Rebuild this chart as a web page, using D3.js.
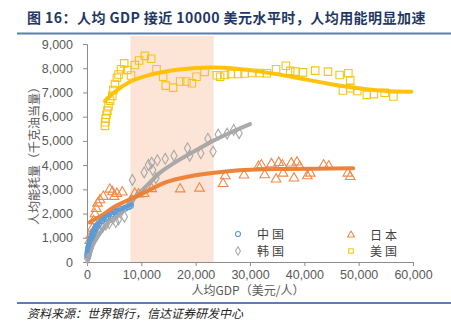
<!DOCTYPE html>
<meta charset="utf-8">
<script src="https://d3js.org/d3.v7.min.js"></script>
<style>
  body { margin: 0; background: #fff; }
  text { font-family: "Liberation Sans", Arial, sans-serif; }
  .cjk { font-family: "Noto Sans CJK SC", sans-serif; }
</style>
<div id="chart"></div>
<script>
var width = 451, height = 327

// data: [GDP per capita, energy use per capita]
var china = [[150,300],[200,400],[250,500],[300,560],[350,620],[450,700],[550,780],[650,880],[750,950],[850,1020],[1000,1100],[1150,1200],[1300,1280],[1500,1380],[1750,1450],[2100,1560],[2700,1700],[3400,1800],[3800,1880],[4500,1980],[5100,2060],[5600,2100],[6300,2170],[7000,2220],[7600,2280],[8000,2330]]
var japan = [[500,880],[700,1110],[980,1390],[1200,1700],[1470,1980],[1700,2200],[1960,2420],[2400,2560],[3000,2700],[4200,3000],[4700,2890],[5000,2700],[5500,2820],[6500,2880],[8800,2830],[9500,2800],[10500,2820],[11900,3020],[17150,3010],[20700,3040],[25050,3230],[25450,3550],[28900,3580],[31550,3940],[32100,4000],[32700,3590],[33950,4050],[34800,3420],[35300,4100],[35950,4000],[36100,3660],[37600,4080],[38100,3460],[38650,4120],[39150,3940],[40550,3550],[41100,3660],[43550,4000],[44500,3960],[48000,3660],[48450,3520]]
var korea = [[100,150],[150,230],[250,300],[400,420],[550,550],[700,700],[900,850],[1100,950],[1400,1050],[1800,1150],[2300,1300],[2900,1450],[3500,1550],[4100,1600],[4800,1800],[5300,1650],[5800,1760],[6900,1870],[7900,2490],[8250,2560],[8350,3390],[10530,3700],[11300,4010],[11900,4100],[12100,3800],[12700,3460],[12950,4200],[14400,4260],[16000,4390],[18500,4700],[18900,4390],[20950,4490],[22250,5090],[23200,4560],[24150,5260],[25800,5300],[27000,5450],[28000,5320]]
var usa = [[3300,5620],[3370,5770],[3450,5920],[3580,6080],[3750,6250],[3950,6430],[4250,6660],[4650,6860],[4850,7100],[5150,7350],[5500,7610],[5800,7740],[6250,7960],[6850,8200],[7400,7930],[8100,7700],[8800,8130],[9600,8320],[10650,8510],[11800,8390],[12800,7960],[14000,7650],[14500,7280],[15850,7200],[17150,7450],[18300,7450],[19300,7380],[20150,7650],[21650,7850],[23900,7710],[24500,7650],[25400,7720],[26500,7760],[27800,7760],[29000,7780],[30400,7800],[31800,7800],[33100,7790],[34800,7960],[36600,8100],[37400,7890],[38350,7860],[39750,7830],[42000,7900],[44350,7860],[46500,7720],[48100,7790],[48450,7500],[47100,7080],[48450,7170],[49750,7060],[51500,6900],[52800,6930],[54800,6990],[56400,6830]]

// trend lines
var chinaTrend = [[150,450],[500,800],[1000,1150],[2080,1600],[3000,1800],[4530,2010],[6000,2150],[7900,2350],[8200,2380]]
var japanTrend = [[550,1650],[3300,2010],[4840,2250],[7000,2500],[10000,2800],[14000,3250],[20000,3580],[26000,3750],[35000,3840],[42000,3850],[49000,3870]]
var koreaTrend = [[200,150],[1000,650],[2000,1050],[2700,1300],[4000,1650],[5760,1900],[7500,2350],[9000,2700],[11000,3150],[13500,3700],[16000,4080],[20000,4600],[23200,5000],[27000,5400],[30000,5690]]
var usaTrend = [[3300,6650],[5000,7000],[8000,7450],[12000,7750],[17000,7950],[23000,8030],[28000,7970],[32000,7860],[38000,7630],[44000,7380],[50000,7170],[55000,7060],[59700,7030]]

var band = [8000, 23300]
var xTicks = [0, 10000, 20000, 30000, 40000, 50000, 60000]
var yTicks = [0, 1000, 2000, 3000, 4000, 5000, 6000, 7000, 8000, 9000]

var svg = d3.select("#chart")
  .append("svg")
    .attr("width", width)
    .attr("height", height)

var x = d3.scaleLinear().domain([0, 60000]).range([87, 413])
var y = d3.scaleLinear().domain([0, 9000]).range([262, 44])

// title
svg.append("text")
  .attr("class", "cjk")
  .attr("x", 27).attr("y", 23)
  .style("font-size", "14px").style("font-weight", "bold")
  .style("letter-spacing", "0.45px")
  .style("fill", "#1f3864")
  .text("图 16：人均 GDP 接近 10000 美元水平时，人均用能明显加速")
svg.append("line")
  .attr("x1", 17).attr("x2", 451).attr("y1", 33.5).attr("y2", 33.5)
  .style("stroke", "#5a7fb0").style("stroke-width", 2)

// shaded band
svg.append("rect")
  .attr("x", x(band[0])).attr("y", 36)
  .attr("width", x(band[1]) - x(band[0])).attr("height", y(0) - 36)
  .style("fill", "#fce4d6")

// axes
var yAxis = svg.append("g")
  .attr("transform", "translate(" + x(0) + ",0)")
  .call(d3.axisLeft(y).tickValues(yTicks).tickSize(4).tickPadding(10).tickFormat(d3.format(",")))
var xAxis = svg.append("g")
  .attr("transform", "translate(0," + y(0) + ")")
  .call(d3.axisBottom(x).tickValues(xTicks).tickSize(4).tickPadding(4).tickFormat(d3.format(",")))
svg.selectAll(".domain, .tick line").style("stroke", "#8c8c8c")
svg.selectAll(".tick text")
  .style("font-size", "12.5px")
  .style("fill", "#595959")
  .style("font-family", "Liberation Sans, Arial, sans-serif")

// axis titles
svg.append("text")
  .attr("class", "cjk")
  .attr("transform", "translate(39,153) rotate(-90)")
  .attr("text-anchor", "middle")
  .style("font-size", "12px").style("fill", "#595959")
  .text("人均能耗量（千克油当量）")
svg.append("text")
  .attr("class", "cjk")
  .attr("x", 248).attr("y", 295)
  .attr("text-anchor", "middle")
  .style("font-size", "12px").style("fill", "#595959")
  .text("人均GDP（美元/人）")

var line = d3.line()
  .x(function(d){ return x(d[0]) })
  .y(function(d){ return y(d[1]) })
  .curve(d3.curveMonotoneX)

var series = [
  {name: "美国", pts: usa, trend: usaTrend, color: "#ffc000", mark: "#f5c518", shape: d3.symbolSquare, size: 56},
  {name: "韩国", pts: korea, trend: koreaTrend, color: "#a5a5a5", mark: "#a8a8a8", shape: d3.symbolDiamond, size: 34},
  {name: "日本", pts: japan, trend: japanTrend, color: "#ed7d31", mark: "#f0894a", shape: d3.symbolTriangle, size: 40},
  {name: "中国", pts: china, trend: chinaTrend, color: "#5b9bd5", mark: "#5b9bd5", shape: d3.symbolCircle, size: 28}
]

series.forEach(function(s){
  svg.append("g")
    .selectAll("path")
    .data(s.pts)
    .enter().append("path")
      .attr("d", d3.symbol().type(s.shape).size(s.size))
      .attr("transform", function(d){ return "translate(" + x(d[0]) + "," + y(d[1]) + ")" })
      .style("fill", "none")
      .style("stroke", s.mark)
      .style("stroke-width", 1.1)
})
series.forEach(function(s){
  svg.append("path")
    .datum(s.trend)
    .attr("d", line)
    .style("fill", "none")
    .style("stroke", s.color)
    .style("stroke-width", 4)
    .style("stroke-linecap", "round")
    .style("opacity", 0.95)
})

// legend
var legend = [
  {name: "中国", shape: d3.symbolCircle, color: "#5b9bd5", lx: 238, ly: 234},
  {name: "日本", shape: d3.symbolTriangle, color: "#f0894a", lx: 351, ly: 235},
  {name: "韩国", shape: d3.symbolDiamond, color: "#a8a8a8", lx: 238, ly: 251},
  {name: "美国", shape: d3.symbolSquare, color: "#f5c518", lx: 351, ly: 251}
]
legend.forEach(function(l){
  svg.append("path")
    .attr("d", d3.symbol().type(l.shape).size(20))
    .attr("transform", "translate(" + l.lx + "," + l.ly + ")")
    .style("fill", "none").style("stroke", l.color).style("stroke-width", 1.1)
  svg.append("text")
    .attr("class", "cjk")
    .attr("x", l.lx + 19).attr("y", l.ly + 4.5)
    .style("font-size", "12px").style("fill", "#404040")
    .style("letter-spacing", "3px")
    .text(l.name)
})

// source
svg.append("line")
  .attr("x1", 17).attr("x2", 451).attr("y1", 303).attr("y2", 303)
  .style("stroke", "#5a7fb0").style("stroke-width", 2)
svg.append("text")
  .attr("class", "cjk")
  .attr("x", 27).attr("y", 318)
  .style("font-size", "12px").style("font-style", "italic")
  .style("fill", "#222")
  .text("资料来源：世界银行，信达证券研发中心")
</script>
